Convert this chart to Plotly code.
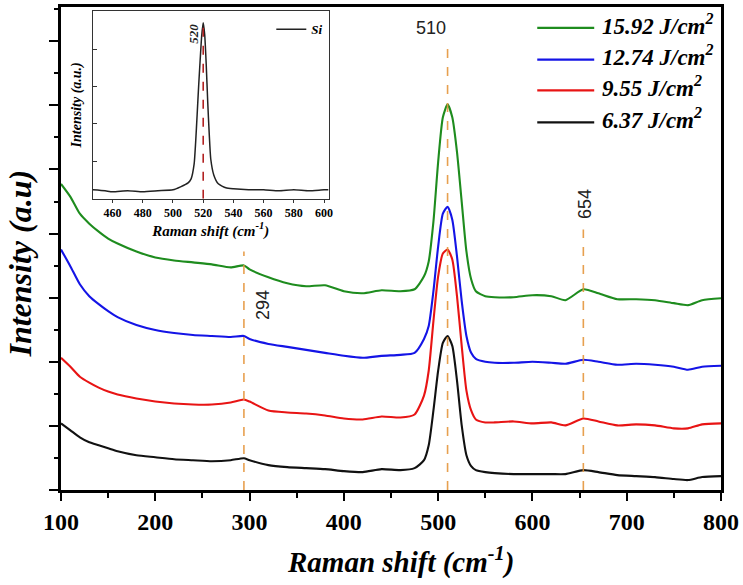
import plotly.graph_objects as go

# ---------------- data (main panel) ----------------
raman_x = [100, 110, 120, 130, 140, 150, 160, 180, 200, 220, 240, 260, 280, 294, 300,
           320, 340, 360, 380, 400, 420, 440, 460, 475, 485, 490, 495, 500, 505, 510,
           515, 520, 525, 530, 535, 540, 550, 560, 580, 600, 620, 635, 654, 670, 690,
           710, 730, 750, 765, 780, 800]

int_1592 = [308, 295, 278, 268, 260, 253, 248, 240, 234, 231, 229, 227, 224, 226, 222,
            214, 208, 205, 206, 200, 198, 201, 200, 202, 215, 230, 270, 330, 375, 388,
            375, 340, 290, 240, 212, 200, 195, 194, 194, 196, 195, 191, 202, 198, 192,
            192, 191, 188, 186, 191, 193]

int_1274 = [242, 225, 207, 195, 187, 180, 174, 166, 161, 158, 156, 155, 154, 155, 152,
            147, 144, 141, 138, 135, 133, 135, 136, 138, 152, 165, 200, 245, 278, 285,
            272, 235, 190, 155, 138, 132, 129, 128, 128, 129, 128, 127, 131, 129, 126,
            127, 126, 124, 121, 124, 125]

int_955 = [133, 124, 114, 108, 103, 99, 96, 92, 89, 87, 86, 86, 88, 91, 89,
           80, 78, 77, 75, 72, 71, 74, 73, 76, 95, 120, 170, 215, 238, 242,
           232, 195, 145, 100, 80, 71, 68, 68, 69, 67, 68, 65, 72, 69, 65,
           66, 65, 62, 62, 66, 67]

int_637 = [67, 60, 53, 48, 45, 42, 39, 35, 33, 31, 30, 29, 30, 32, 30,
           25, 23, 22, 21, 19, 18, 21, 20, 22, 30, 45, 80, 120, 148, 155,
           145, 110, 65, 35, 24, 20, 18, 17, 16, 16, 16, 16, 20, 18, 15,
           14, 13, 11, 10, 13, 14]

series_names = ["15.92 J/cm<sup>2</sup>", "12.74 J/cm<sup>2</sup>",
                "9.55 J/cm<sup>2</sup>", "6.37 J/cm<sup>2</sup>"]
series_vals = [int_1592, int_1274, int_955, int_637]
series_colors = ["#1e8c1e", "#1414e6", "#e81414", "#111111"]

peak_pos = [294, 510, 654]
peak_top = [240, 450, 262]
peak_lbl_x = [314, 492, 655]
peak_lbl_y = [186, 465, 288]
peak_lbl_angle = [-90, 0, -90]

# ---------------- data (inset, Si) ----------------
si_x = [447, 455, 460, 470, 480, 490, 500, 505, 510, 512, 514, 515, 516, 517, 518, 519,
        520, 521, 522, 523, 524, 525, 527, 530, 535, 540, 550, 560, 570, 580, 590, 600, 603]
si_y = [9, 8, 7, 8, 7, 8, 9, 12, 16, 20, 35, 57, 85, 114, 140, 164,
        177, 165, 135, 97, 65, 40, 24, 15, 11, 10, 9, 9, 8, 9, 8, 9, 9]

SERIF = "Liberation Serif"

fig = go.Figure()

for name, vals, col in zip(series_names, series_vals, series_colors):
    fig.add_trace(go.Scatter(
        x=raman_x, y=vals, mode="lines", name=name, showlegend=False,
        line=dict(color=col, width=2.1, shape="spline", smoothing=0.6),
        xaxis="x", yaxis="y"))

# hand-placed legend (long sample lines, as in the original figure)
leg_rows = [0.9568, 0.8909, 0.8272, 0.7613]
for name, col, ry in zip(series_names, series_colors, leg_rows):
    fig.add_shape(type="line", xref="paper", yref="paper", x0=0.7216, x1=0.8079,
                  y0=ry, y1=ry, line=dict(color=col, width=2.2))
    fig.add_annotation(x=0.816, y=ry + 0.008, xref="paper", yref="paper", xanchor="left",
                       yanchor="middle", text="<b><i>" + name + "</i></b>",
                       showarrow=False, font=dict(family=SERIF, size=23, color="black"))

# dashed peak guide lines
for px, pt in zip(peak_pos, peak_top):
    fig.add_shape(type="line", xref="x", yref="y", x0=px, x1=px, y0=0, y1=pt,
                  line=dict(color="rgba(228,150,60,0.9)", width=1.6, dash="dash"))

for lx, ly, ang, p in zip(peak_lbl_x, peak_lbl_y, peak_lbl_angle, peak_pos):
    fig.add_annotation(x=lx, y=ly, xref="x", yref="y", text=str(p), showarrow=False,
                       textangle=ang, font=dict(family="Liberation Sans", size=18, color="#222"))

# inset trace
fig.add_trace(go.Scatter(
    x=si_x, y=si_y, mode="lines", name="<b><i>Si</i></b>",
    line=dict(color="#222222", width=1.5, shape="spline", smoothing=0.5),
    xaxis="x2", yaxis="y2", legend="legend2"))

fig.add_shape(type="line", xref="x2", yref="y2", x0=520, x1=520, y0=0, y1=177,
              line=dict(color="#b22222", width=1.6, dash="dash"))
fig.add_annotation(x=514, y=166, xref="x2", yref="y2", text="<b><i>520</i></b>",
                   showarrow=False, textangle=-90,
                   font=dict(family=SERIF, size=13, color="#222"))

axis_common = dict(showgrid=False, zeroline=False, showline=True, mirror=True)

fig.update_layout(
    width=743, height=585,
    margin=dict(l=61, r=21, t=4, b=95),
    plot_bgcolor="white", paper_bgcolor="white",
    font=dict(family=SERIF, color="black"),
    showlegend=True,
    xaxis=dict(**axis_common, range=[100, 800], linewidth=2.5, linecolor="black",
               tickmode="linear", tick0=100, dtick=100, ticks="outside",
               ticklen=8, tickwidth=2, tickcolor="black",
               minor=dict(dtick=50, ticks="outside", ticklen=5, tickwidth=2,
                          tickcolor="black"),
               tickfont=dict(family=SERIF, size=24, color="black"),
               tickprefix="<b>", ticksuffix="</b>"),
    yaxis=dict(**axis_common, range=[0, 486], linewidth=2.5, linecolor="black",
               tickmode="linear", tick0=0, dtick=64.5, ticks="outside",
               ticklen=9, tickwidth=2, tickcolor="black",
               minor=dict(dtick=32.25, ticks="outside", ticklen=4, tickwidth=2,
                          tickcolor="black"),
               showticklabels=False),
    xaxis2=dict(**axis_common, domain=[0.0484, 0.4054], anchor="y2",
                range=[447, 603], linewidth=1.3, linecolor="#333",
                tickmode="linear", tick0=460, dtick=20, ticks="outside",
                ticklen=3, tickwidth=1, tickcolor="#333",
                tickfont=dict(family=SERIF, size=12, color="black"),
                tickprefix="<b>", ticksuffix="</b>",
                title=dict(text="<b><i>Raman shift (cm<sup>-1</sup>)</i></b>",
                           font=dict(family=SERIF, size=15, color="black"),
                           standoff=2)),
    yaxis2=dict(**axis_common, domain=[0.603, 0.992], anchor="x2",
                range=[0, 189], linewidth=1.3, linecolor="#333",
                tickmode="linear", tick0=0, dtick=37.6, ticks="inside",
                ticklen=4, tickwidth=1, tickcolor="#333",
                showticklabels=False,
                title=dict(text="<b><i>Intensity (a.u.)</i></b>",
                           font=dict(family=SERIF, size=14, color="black"),
                           standoff=6)),
    legend2=dict(x=0.405, y=0.985, xanchor="right", yanchor="top",
                 bgcolor="rgba(0,0,0,0)", borderwidth=0,
                 font=dict(family=SERIF, size=13, color="black")),
)

fig.add_annotation(x=-0.062, y=0.469, xref="paper", yref="paper", xanchor="center",
                   yanchor="middle",
                   text="<b><i>Intensity (a.u)</i></b>", showarrow=False, textangle=-90,
                   font=dict(family=SERIF, size=32, color="black"))
fig.add_annotation(x=0.514, y=-0.146, xref="paper", yref="paper", xanchor="center",
                   yanchor="middle",
                   text="<b><i>Raman shift (cm<sup>-1</sup>)</i></b>", showarrow=False,
                   font=dict(family=SERIF, size=29, color="black"))

fig.write_html("out.html")
